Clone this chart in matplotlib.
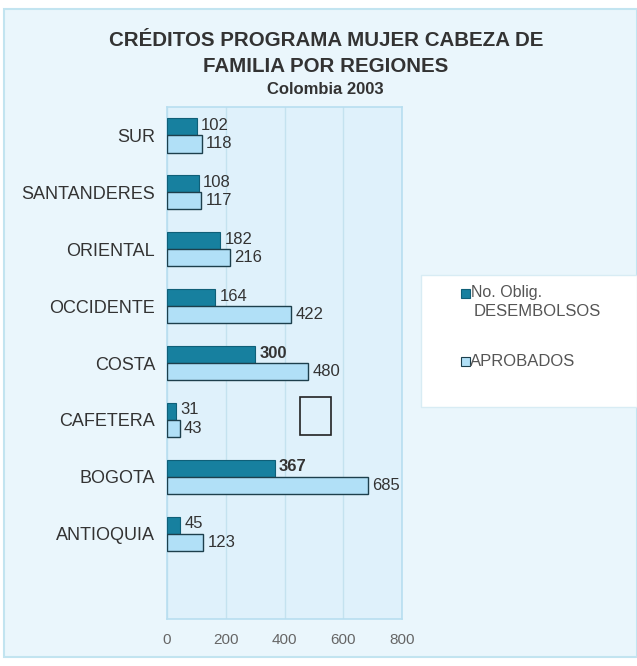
import matplotlib
matplotlib.use("Agg")
import matplotlib.pyplot as plt
from matplotlib.patches import Rectangle
import numpy as np

plt.rcParams["font.family"] = ["Liberation Sans", "DejaVu Sans"]

# Créditos por región (de arriba hacia abajo)
regiones = ["SUR", "SANTANDERES", "ORIENTAL", "OCCIDENTE", "COSTA",
            "CAFETERA", "BOGOTA", "ANTIOQUIA"]
desembolsos = [102, 108, 182, 164, 300, 31, 367, 45]
aprobados = [118, 117, 216, 422, 480, 43, 685, 123]
resaltados = [False, False, False, False, True, False, True, False]
ticks_x = [0, 200, 400, 600, 800]

W, H = 637, 666
fig = plt.figure(figsize=(W / 100, H / 100), dpi=100, facecolor="white")

# panel de fondo
fig.patches.append(Rectangle((4 / W, 9 / H), (W - 4) / W, (657 - 9) / H,
                             transform=fig.transFigure, facecolor="#eaf6fc",
                             edgecolor="#c2e4f0", linewidth=1.5, zorder=-1))

ax = fig.add_axes([167 / W, (H - 619) / H, (402 - 167) / W, (619 - 107) / H])
ax.set_zorder(2)
ax.set_facecolor("#dff1fb")

y = np.arange(len(regiones))
h = 0.3
off = 0.15
ax.barh(y - off, desembolsos, height=h, color="#17809f", edgecolor="#0f5f78",
        linewidth=0.8, zorder=3)
ax.barh(y + off, aprobados, height=h, color="#b1e0f7", edgecolor="#1d3f4c",
        linewidth=1.0, zorder=3)

for yi, v, b in zip(y, desembolsos, resaltados):
    ax.annotate(str(v), (v, yi - off), xytext=(3, 1), textcoords="offset points",
                va="center", ha="left", fontsize=12, color="#333333",
                fontweight="bold" if b else "normal")
for yi, v in zip(y, aprobados):
    ax.annotate(str(v), (v, yi + off), xytext=(3, 0), textcoords="offset points",
                va="center", ha="left", fontsize=12, color="#333333")

ax.set_xlim(0, 800)
ax.set_ylim(8.5, -0.5)
ax.set_xticks(ticks_x)
ax.set_xticklabels([str(t) for t in ticks_x], fontsize=11, color="#666666")
ax.set_yticks(y)
ax.set_yticklabels(regiones, fontsize=13, color="#333333")
ax.tick_params(length=0, pad=8.5)
ax.tick_params(axis="x", pad=10)
ax.grid(axis="x", color="#c4e2ef", linewidth=1.0, zorder=1)
for s in ax.spines.values():
    s.set_color("#b8def0")
    s.set_linewidth(1.2)

fig.text(326 / W, 1 - 41 / H, "CRÉDITOS PROGRAMA MUJER CABEZA DE",
         ha="center", va="center", fontsize=14.8, fontweight="bold", color="#333333")
fig.text(326 / W, 1 - 67 / H, "FAMILIA POR REGIONES",
         ha="center", va="center", fontsize=14.8, fontweight="bold", color="#333333")
fig.text(325 / W, 1 - 90 / H, "Colombia 2003",
         ha="center", va="center", fontsize=12, fontweight="bold", color="#333333")

# leyenda
fig.patches.append(Rectangle((421 / W, 1 - 407 / H), (W - 421) / W, (407 - 275) / H,
                             transform=fig.transFigure, facecolor="white",
                             edgecolor="#d8ecf4", linewidth=1.0, zorder=1))
fig.patches.append(Rectangle((461 / W, 1 - 298 / H), 9 / W, 9 / H,
                             transform=fig.transFigure, facecolor="#17809f",
                             edgecolor="#0f5f78", linewidth=0.8, zorder=2))
fig.patches.append(Rectangle((461 / W, 1 - 366 / H), 9 / W, 9 / H,
                             transform=fig.transFigure, facecolor="#b1e0f7",
                             edgecolor="#1d3f4c", linewidth=0.8, zorder=2))
fig.text(471 / W, 1 - 293 / H, "No. Oblig.", ha="left", va="center",
         fontsize=11.5, color="#555555")
fig.text(474 / W, 1 - 312 / H, "DESEMBOLSOS", ha="left", va="center",
         fontsize=12, color="#555555")
fig.text(470 / W, 1 - 361 / H, "APROBADOS", ha="left", va="center",
         fontsize=12, color="#555555")

# recuadro vacío
fig.patches.append(Rectangle((300 / W, 1 - 435 / H), 31 / W, 38 / H,
                             transform=fig.transFigure, facecolor="none",
                             edgecolor="#222222", linewidth=1.2, zorder=5))

fig.savefig("out.png", dpi=100, facecolor=fig.get_facecolor())
